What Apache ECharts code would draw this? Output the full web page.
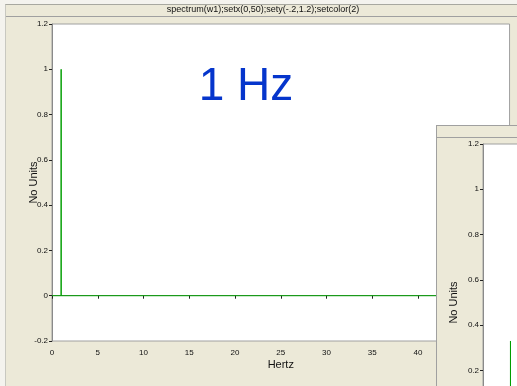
<!DOCTYPE html>
<html><head><meta charset="utf-8">
<script src="https://cdn.jsdelivr.net/npm/echarts@6/dist/echarts.min.js"></script>
<style>
html,body{margin:0;padding:0;width:517px;height:386px;overflow:hidden;background:#f4f3ee;font-family:"Liberation Sans",Arial,sans-serif;}
#win1{position:absolute;left:5px;top:4px;width:560px;height:400px;background:#ece9d8;border-top:1px solid #a8a8a0;border-left:1px solid #c8c8c0;}
#bar1{position:absolute;left:0;top:0;width:100%;height:11px;border-bottom:1px solid #a0a0a0;}
#c1{position:absolute;left:0;top:0;width:517px;height:386px;}
#win2{position:absolute;left:436px;top:125px;width:560px;height:400px;background:#ece9d8;border-top:1px solid #a0a0a0;border-left:1px solid #a0a0a0;overflow:hidden;}
#bar2{position:absolute;left:0;top:0;width:100%;height:11px;border-bottom:1px solid #a0a0a0;}
#c2{position:absolute;left:0;top:0;width:540px;height:400px;}
</style></head>
<body>
<div id="win1"><div id="bar1"></div></div>
<div id="c1"></div>
<div id="win2"><div id="bar2"></div><div id="c2"></div></div>
<script>
var titleText = "spectrum(w1);setx(0,50);sety(-.2,1.2);setcolor(2)";
var annotation = "1 Hz";
var xName = "Hertz";
var yName = "No Units";
// main spectrum: spike at 1 Hz
var freq1 = [0, 1, 1, 1, 50];
var amp1 = [0, 0, 1, 0, 0];
// second (overlapping) window: visible spike
var freq2 = [0, 3, 3, 3, 50];
var amp2 = [0, 0, 0.33, 0, 0];
var xMin = 0, xMax = 50, xStep = 5;
var yMin = -0.2, yMax = 1.2, yStep = 0.2;

function pairs(xs, ys){ return xs.map(function(x,i){ return [x, ys[i]]; }); }

var green = '#009e00';
var axisCommon = {
  axisLine:{show:true, lineStyle:{color:'#8a8a8a', width:1}},
  axisTick:{show:true, length:3, lineStyle:{color:'#222'}},
  axisLabel:{fontSize:8, color:'#111', fontFamily:'Liberation Sans'},
  splitLine:{show:false}
};
function mkOption(gridLeft, gridTop, data, withTitle){
  var opt = {
    animation:false,
    grid:{left:gridLeft, top:gridTop, width:458, height:317, show:true, backgroundColor:'#ffffff', borderColor:'#a0a0a0', borderWidth:1},
    xAxis: Object.assign({}, axisCommon, {type:'value', min:xMin, max:xMax, interval:xStep,
      axisLabel:Object.assign({}, axisCommon.axisLabel, {margin:8}),
      name:xName, nameLocation:'middle', nameGap:18, nameMoveOverlap:false, nameTextStyle:{fontSize:11, color:'#111', fontFamily:'Liberation Sans'}}),
    yAxis: Object.assign({}, axisCommon, {type:'value', min:yMin, max:yMax, interval:yStep,
      axisLabel:Object.assign({}, axisCommon.axisLabel, {margin:4}),
      name:yName, nameLocation:'middle', nameGap:withTitle?13:24, nameMoveOverlap:false, nameTextStyle:{fontSize:11, color:'#111', fontFamily:'Liberation Sans'}}),
    series:[{type:'line', data:data, showSymbol:false, symbol:'none', lineStyle:{color:green, width:1}, itemStyle:{color:green}}]
  };
  if (withTitle) {
    opt.graphic = [
      {type:'text', x:263, y:10, style:{text:titleText, fontSize:9, fill:'#111', fontFamily:'Liberation Sans', textAlign:'center', textVerticalAlign:'middle'}},
      {type:'text', x:246, y:87, style:{text:annotation, fontSize:46, fill:'#0535cc', fontFamily:'Liberation Sans', textAlign:'center', textVerticalAlign:'middle'}}
    ];
  }
  return opt;
}
var ch1 = echarts.init(document.getElementById('c1'));
ch1.setOption(mkOption(52, 24, pairs(freq1, amp1), true));
var ch2 = echarts.init(document.getElementById('c2'));
ch2.setOption(mkOption(46, 18, pairs(freq2, amp2), false));
</script>
</body></html>
